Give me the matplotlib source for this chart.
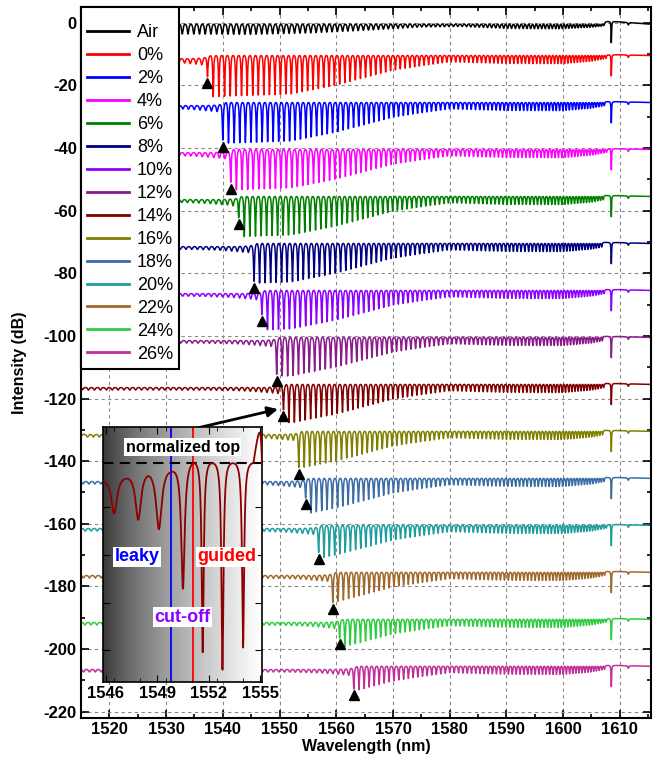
import numpy as np
import matplotlib
matplotlib.use("Agg")
import matplotlib.pyplot as plt
from matplotlib.ticker import MultipleLocator

plt.rcParams['font.family'] = ['Liberation Sans', 'DejaVu Sans']
plt.rcParams['axes.unicode_minus'] = False

# series: label, colour, baseline level (dB)
labels = ['Air', '0%', '2%', '4%', '6%', '8%', '10%', '12%', '14%',
          '16%', '18%', '20%', '22%', '24%', '26%']
colors = ['black', '#FF0000', '#0000FF', '#FF00FF', '#008000', '#000080',
          '#8B00FF', '#8B1A8B', '#800000', '#808000', '#3A6EA5', '#1E9E9E',
          '#A0682A', '#2ECC40', '#C0309A']
baselines = [-0.5, -10.5, -25.5, -40.5, -55.5, -70.5, -85.5, -100.5, -115.5,
             -130.5, -145.5, -160.5, -175.5, -190.5, -205.5]

# cut-off wavelength (nm), triangle marker level (dB), depth of the cut-off dip (dB)
cutoff = [1537.3, 1540.0, 1541.4, 1542.8, 1545.5, 1546.9, 1549.5, 1550.7,
          1553.4, 1554.6, 1556.9, 1559.4, 1560.6, 1563.1]
tri_y = [-19.2, -39.6, -53.0, -64.2, -84.7, -95.2, -114.4, -125.6,
         -144.1, -153.7, -171.2, -187.2, -198.4, -214.7]
cut_depth = [6.7, 12.1, 10.5, 6.7, 12.2, 7.7, 11.9, 8.1, 11.6, 6.2, 8.7, 9.7, 5.9, 7.2]

# resonance comb: spacing read at a few wavelengths
sp_wl = [1515, 1540, 1560, 1580, 1595, 1608]
sp_nm = [1.05, 1.0, 0.93, 0.78, 0.65, 0.45]

# guided-dip depth envelope (dB) and air dip depth (dB)
gd_wl = [1535, 1552, 1560, 1565, 1570, 1575, 1580, 1590, 1600, 1605, 1608]
gd_db = [14.0, 13.0, 10.0, 7.5, 5.0, 3.5, 2.2, 2.8, 3.0, 2.2, 1.0]
pk_c = [1537, 1550, 1563]
pk_db = [14.0, 13.0, 10.0]
air_wl = [1515, 1545, 1555, 1565, 1575, 1582, 1590, 1600, 1605, 1608]
air_db = [3.5, 4.0, 3.5, 2.5, 1.2, 1.0, 2.0, 2.5, 2.0, 1.0]

# leaky-side top level relative to cut-off (nm from cut-off, dB)
lt_d = [-100, -3.0, -1.3, 0.0, 0.6]
lt_db = [-1.0, -1.0, -0.85, -0.6, 0.0]

# Bragg (ghost) dip
bragg_wl = 1608.5
bragg_db = 6.8

# inset: 14% spectrum around cut-off, normalized to top
ins_pos = [1546.5, 1547.9, 1549.1, 1550.5, 1551.65, 1552.8, 1554.0, 1555.2]
ins_depth = [2.5, 3.3, 4.2, 8.5, 12.9, 14.0, 12.5, 13.5]
ins_width = [0.2, 0.2, 0.2, 0.12, 0.07, 0.07, 0.07, 0.07]
ins_top_wl = [1545.85, 1547.2, 1548.5, 1549.8, 1551.1, 1555.1]
ins_top_db = [-1.2, -1.03, -0.85, -0.6, 0.0, 0.0]
ins_cut = 1549.8
ins_guided = 1551.1


def comb_curve(lam, pos, depth, width):
    pos = np.asarray(pos)
    y = np.zeros_like(lam)
    for p, d, w in zip(pos, depth, width):
        y -= d / (1 + ((lam - p) / w) ** 2)
    # put the maxima between neighbouring dips back on the top level
    mids = np.concatenate([[lam[0]], (pos[:-1] + pos[1:]) / 2, [lam[-1]]])
    return y - np.interp(lam, mids, np.interp(mids, lam, y))


def lorentz(lam, p, d, w):
    return -d / (1 + ((lam - p) / w) ** 2)


comb = [1515.3]
while comb[-1] < 1607.6:
    comb.append(comb[-1] + np.interp(comb[-1], sp_wl, sp_nm))
comb = np.array(comb[:-1])

lam = np.arange(1515.0, 1615.6, 0.01)

fig = plt.figure(figsize=(6.61, 7.58), dpi=100)
ax = fig.add_axes([81 / 661, 1 - 718 / 758, 570 / 661, 711 / 758])

curves = []
# Air
curves.append(baselines[0] + comb_curve(lam, comb, np.interp(comb, air_wl, air_db),
                                        [0.18] * len(comb)))
for k, c in enumerate(cutoff):
    pos = comb + (c - comb[np.argmin(np.abs(comb - c))])
    pos = pos[pos < 1607.8]
    dep, wid = [], []
    for p in pos:
        if p < c - 0.05:
            dep.append(1.0 + 2.2 * np.exp(-(c - p) / 4))
            wid.append(0.2)
        elif p < c + 0.05:
            dep.append(cut_depth[k])
            wid.append(0.1)
        else:
            dep.append(min(np.interp(c, pk_c, pk_db), np.interp(p, gd_wl, gd_db)))
            wid.append(0.09)
    top = np.interp(lam - c, lt_d, lt_db)
    curves.append(baselines[k + 1] + top + comb_curve(lam, pos, dep, wid))

for y, col, lab in zip(curves, colors, labels):
    y = y + lorentz(lam, bragg_wl, bragg_db, 0.05) + lorentz(lam, 1611.5, 0.8, 0.1)
    ax.plot(lam, y, color=col, lw=1.1, label=lab)

ax.plot(cutoff, tri_y, '^', color='black', ms=7, ls='none')

ax.set_xlim(1515, 1615.5)
ax.set_ylim(-222, 5)
ax.xaxis.set_major_locator(MultipleLocator(10))
ax.xaxis.set_minor_locator(MultipleLocator(5))
ax.yaxis.set_major_locator(MultipleLocator(20))
ax.yaxis.set_minor_locator(MultipleLocator(10))
ax.grid(True, which='major', color='#888888', ls=(0, (3, 3)), lw=0.8)
ax.set_axisbelow(True)
ax.tick_params(which='both', direction='in', top=True, right=True, width=1.2)
ax.tick_params(which='major', length=6, labelsize=12, pad=3)
ax.tick_params(which='minor', length=3)
for lbl in ax.get_xticklabels() + ax.get_yticklabels():
    lbl.set_fontweight('bold')
for s in ax.spines.values():
    s.set_linewidth(1.5)
ax.set_xlabel('Wavelength (nm)', fontsize=11.5, fontweight='bold', labelpad=1)
ax.set_ylabel('Intensity (dB)', fontsize=11.5, fontweight='bold', labelpad=12)

leg = ax.legend(loc='upper left', borderaxespad=0, fontsize=13, handlelength=2.3,
                handletextpad=0.45, labelspacing=0.33, fancybox=False, framealpha=1,
                edgecolor='black', borderpad=0.35, title=' ', title_fontsize=4)
leg.get_frame().set_linewidth(1.5)
for h in leg.get_lines():
    h.set_linewidth(2)

ax.annotate('', xy=(1550.2, -123.2), xytext=(1532.9, -130.5),
            arrowprops=dict(arrowstyle='-|>', color='black', lw=2, mutation_scale=15))

# inset
axin = fig.add_axes([103 / 661, 1 - 682 / 758, 159 / 661, 255 / 758])
x0, x1, y0, y1 = 1545.85, 1555.1, -14.5, 2.4
grad = np.linspace(0.08, 1, 256) ** 0.6
axin.imshow(grad[None, :], extent=[x0, x1, y0, y1], aspect='auto', cmap='gray',
            vmin=0, vmax=1, zorder=0)
lam_i = np.arange(x0, x1, 0.005)
y_i = np.interp(lam_i, ins_top_wl, ins_top_db) + comb_curve(lam_i, ins_pos, ins_depth, ins_width)
axin.plot(lam_i, y_i, color='#8B0000', lw=1.3, zorder=3)
axin.axvline(ins_cut, color='#0000FF', lw=1.3, zorder=2)
axin.axvline(ins_guided, color='#FF0000', lw=1.3, zorder=2)
axin.axhline(0, color='black', lw=1.5, ls=(0, (5, 3)), zorder=2)
axin.set_xlim(x0, x1)
axin.set_ylim(y0, y1)
axin.set_xticks([1546, 1549, 1552, 1555])
axin.xaxis.set_minor_locator(MultipleLocator(1.5))
axin.set_yticks([-2.9, -6.1, -9.25, -12.4])
axin.tick_params(which='both', direction='in', top=True, right=True, labelleft=False)
axin.tick_params(which='major', length=5, labelsize=12, pad=3)
axin.tick_params(which='minor', length=3)
for lbl in axin.get_xticklabels():
    lbl.set_fontweight('bold')
for s in axin.spines.values():
    s.set_linewidth(1.2)
box = dict(facecolor='white', edgecolor='none', pad=1)
axin.text(1550.5, 1.05, 'normalized top', ha='center', va='center', fontsize=11.5,
          fontweight='bold', bbox=box, zorder=4)
axin.text(1547.85, -6.2, 'leaky', ha='center', va='center', fontsize=13,
          fontweight='bold', color='#0000FF', bbox=box, zorder=4)
axin.text(1553.05, -6.2, 'guided', ha='center', va='center', fontsize=13,
          fontweight='bold', color='#FF0000', bbox=box, zorder=4)
axin.text(1550.45, -10.2, 'cut-off', ha='center', va='center', fontsize=13,
          fontweight='bold', color='#8B00FF', bbox=box, zorder=4)

fig.savefig('out.png', dpi=100)
